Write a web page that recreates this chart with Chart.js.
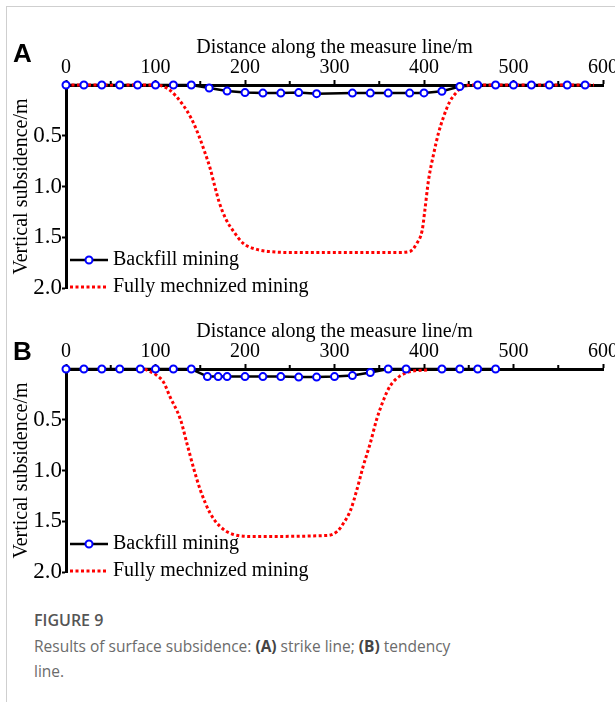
<!DOCTYPE html>
<html>
<head>
<meta charset="utf-8">
<script src="https://cdn.jsdelivr.net/npm/chart.js@4.4.0/dist/chart.umd.min.js"></script>
<style>
  body { margin: 0; background: #fff; }
  #page { position: relative; width: 615px; height: 702px; overflow: hidden; }
  .frame { position: absolute; left: 6px; top: 6px; width: 620px; height: 700px;
           border-top: 1px solid #cfcfcf; border-left: 1px solid #cfcfcf; }
  .box { position: absolute; left: 0; width: 615px; height: 305px; }
  .panel { position: absolute; left: 13px; font: bold 26px "Liberation Sans", Arial, sans-serif; line-height: 26px; color: #000; }
  .caption { position: absolute; left: 34px; top: 608px; font-family: "Open Sans", sans-serif;
             font-size: 15.5px; line-height: 25.5px; color: #6b6b6b; }
  .caption .fig { font-size: 16px; font-weight: 600; color: #555; }
  .caption b { color: #444; font-weight: 700; }
</style>
</head>
<body>
<div id="page">
  <div class="frame"></div>
  <div class="box" style="top:0"><canvas id="chartA"></canvas></div>
  <div class="box" style="top:284px"><canvas id="chartB"></canvas></div>
  <div class="panel" style="top:40px">A</div>
  <div class="panel" style="top:338px">B</div>
  <div class="caption">
    <span class="fig">FIGURE 9</span><br>
    Results of surface subsidence: <b>(A)</b> strike line; <b>(B)</b> tendency<br>
    line.
  </div>
</div>
<script>
// (A) strike line
const backfillA_x = [0, 20, 40, 60, 80, 100, 120, 140, 160, 180, 200, 220, 240, 260, 280,
                     320, 340, 360, 384, 400, 420, 440, 460, 480, 500, 520, 540, 560, 580];
const backfillA_y = [0, 0, 0, 0, 0, 0, 0, 0, 0.03, 0.06, 0.075, 0.08, 0.08, 0.075, 0.085,
                     0.08, 0.08, 0.08, 0.08, 0.078, 0.062, 0.015, 0, 0, 0, 0, 0, 0, 0];
const fullyA_x = [0, 101, 109, 116, 131, 140, 148, 155, 161, 166, 171, 178, 187, 198, 213, 226,
                  250, 300, 370, 384, 392, 398, 401, 405, 411, 416, 422, 429, 437, 444, 455, 590];
const fullyA_y = [0, 0, 0.016, 0.05, 0.2, 0.33, 0.49, 0.66, 0.82, 0.99, 1.15, 1.31, 1.44, 1.56, 1.62, 1.64,
                  1.65, 1.65, 1.65, 1.64, 1.56, 1.43, 1.23, 0.94, 0.67, 0.48, 0.31, 0.16, 0.066, 0.01, 0, 0];

// (B) tendency line
const backfillB_x = [0, 20, 40, 60, 83, 100, 120, 140, 158, 170, 180, 200, 220, 240,
                     260, 280, 300, 320, 340, 360, 380, 420, 440, 460, 480];
const backfillB_y = [0, 0, 0, 0, 0, 0, 0, 0, 0.075, 0.075, 0.075, 0.075, 0.075, 0.075,
                     0.08, 0.08, 0.075, 0.065, 0.035, 0, 0, 0, 0, 0, 0];
const fullyB_x = [88, 101, 109, 116, 128, 135, 143, 150, 161, 172, 187, 210,
                  292, 303, 310, 318, 325, 332, 340, 347, 355, 362, 373, 388, 405];
const fullyB_y = [0, 0.06, 0.13, 0.27, 0.5, 0.73, 0.99, 1.19, 1.42, 1.55, 1.63, 1.65,
                  1.64, 1.6, 1.52, 1.39, 1.19, 0.96, 0.73, 0.5, 0.3, 0.17, 0.07, 0.02, 0.01];

const xMin = 0, xMax = 600, xStep = 100;
const yMin = 0, yMax = 2, yStep = 0.5;
const xMinorTicks = [50, 150, 250, 350, 450, 550];

const seriesNames = ['Backfill mining', 'Fully mechnized mining'];

const serif = '"Liberation Serif", "Times New Roman", serif';

function toPoints(xs, ys) {
    return xs.map((x, i) => ({ x: x, y: ys[i] }));
}

// legend drawn inside the plot, bottom left
const insideLegend = {
    id: 'insideLegend',
    afterDraw(chart) {
        const { ctx, chartArea } = chart;
        const ds = chart.data.datasets;
        const x0 = chartArea.left + 4;
        const x1 = chartArea.left + 42;
        const tx = chartArea.left + 47;
        const y1 = chartArea.bottom - 28;
        const y2 = chartArea.bottom - 1;

        ctx.save();
        ctx.lineCap = 'butt';
        // backfill row
        ctx.strokeStyle = ds[0].borderColor;
        ctx.lineWidth = ds[0].borderWidth;
        ctx.beginPath();
        ctx.moveTo(x0, y1);
        ctx.lineTo(x1, y1);
        ctx.stroke();
        ctx.beginPath();
        ctx.arc((x0 + x1) / 2, y1, ds[2].pointRadius, 0, Math.PI * 2);
        ctx.fillStyle = ds[2].pointBackgroundColor;
        ctx.fill();
        ctx.lineWidth = ds[2].pointBorderWidth;
        ctx.strokeStyle = ds[2].pointBorderColor;
        ctx.stroke();
        // fully mechanized row
        ctx.strokeStyle = ds[1].borderColor;
        ctx.lineWidth = ds[1].borderWidth;
        ctx.setLineDash(ds[1].borderDash);
        ctx.beginPath();
        ctx.moveTo(x0, y2);
        ctx.lineTo(x1 - 2, y2);
        ctx.stroke();
        ctx.setLineDash([]);

        ctx.fillStyle = '#000';
        ctx.font = '20px ' + serif;
        ctx.textBaseline = 'middle';
        ctx.textAlign = 'left';
        ctx.fillText(ds[0].label, tx, y1);
        ctx.fillText(ds[1].label, tx, y2);
        ctx.restore();
    }
};

// short minor ticks on the distance axis
const minorTicks = {
    id: 'minorTicks',
    afterDraw(chart) {
        const { ctx, chartArea } = chart;
        const xs = chart.scales.x;
        ctx.save();
        ctx.strokeStyle = '#000';
        ctx.lineWidth = 2;
        xMinorTicks.forEach(v => {
            const px = xs.getPixelForValue(v);
            ctx.beginPath();
            ctx.moveTo(px, chartArea.top - 1);
            ctx.lineTo(px, chartArea.top - 4);
            ctx.stroke();
        });
        ctx.restore();
    }
};

function makeChart(id, bx, by, fx, fy) {
    const ctx = document.getElementById(id).getContext('2d');
    return new Chart(ctx, {
        type: 'line',
        data: {
            datasets: [{
                label: seriesNames[0],
                data: toPoints(bx, by),
                borderColor: '#000',
                borderWidth: 2.5,
                pointRadius: 0,
                tension: 0,
                clip: false,
                order: 3
            }, {
                label: seriesNames[1],
                data: toPoints(fx, fy),
                borderColor: '#ff0000',
                borderWidth: 3,
                borderDash: [3, 2.5],
                pointRadius: 0,
                cubicInterpolationMode: 'monotone',
                clip: false,
                order: 2
            }, {
                label: seriesNames[0] + ' points',
                data: toPoints(bx, by),
                showLine: false,
                pointRadius: 3.5,
                pointBorderWidth: 2,
                pointBorderColor: '#0000ff',
                pointBackgroundColor: '#ffffff',
                clip: false,
                order: 1
            }]
        },
        options: {
            responsive: true,
            maintainAspectRatio: false,
            animation: false,
            layout: {
                padding: { top: 30, left: 6, right: 12, bottom: 17 }
            },
            plugins: {
                legend: { display: false },
                tooltip: { enabled: false }
            },
            scales: {
                x: {
                    type: 'linear',
                    position: 'top',
                    min: xMin,
                    max: xMax,
                    ticks: {
                        stepSize: xStep,
                        color: '#000',
                        padding: 0,
                        maxRotation: 0,
                        font: { family: serif, size: 20 }
                    },
                    grid: {
                        drawOnChartArea: false,
                        drawTicks: true,
                        tickLength: 5,
                        tickColor: '#000',
                        tickWidth: 2
                    },
                    border: { color: '#000', width: 3 },
                    title: {
                        display: true,
                        text: 'Distance along the measure line/m',
                        color: '#000',
                        font: { family: serif, size: 20 },
                        padding: { top: 6, bottom: 0 }
                    },
                    afterFit(scale) {
                        scale.height = 55;
                        scale.paddingLeft = 0;
                        scale.paddingRight = 0;
                    }
                },
                y: {
                    type: 'linear',
                    reverse: true,
                    min: yMin,
                    max: yMax,
                    ticks: {
                        stepSize: yStep,
                        color: '#000',
                        padding: 0,
                        font: { family: serif, size: 23 },
                        callback: v => (v === 0 ? '' : v.toFixed(1))
                    },
                    grid: {
                        drawOnChartArea: false,
                        drawTicks: true,
                        tickLength: 4,
                        tickColor: '#000',
                        tickWidth: 2
                    },
                    border: { color: '#000', width: 3 },
                    title: {
                        display: true,
                        text: 'Vertical subsidence/m',
                        color: '#000',
                        font: { family: serif, size: 20 },
                        padding: { top: 4, bottom: 0 }
                    },
                    afterFit(scale) {
                        scale.width = 60;
                        scale.paddingTop = 0;
                        scale.paddingBottom = 0;
                    }
                }
            }
        },
        plugins: [minorTicks, insideLegend]
    });
}

makeChart('chartA', backfillA_x, backfillA_y, fullyA_x, fullyA_y);
makeChart('chartB', backfillB_x, backfillB_y, fullyB_x, fullyB_y);
</script>
</body>
</html>
